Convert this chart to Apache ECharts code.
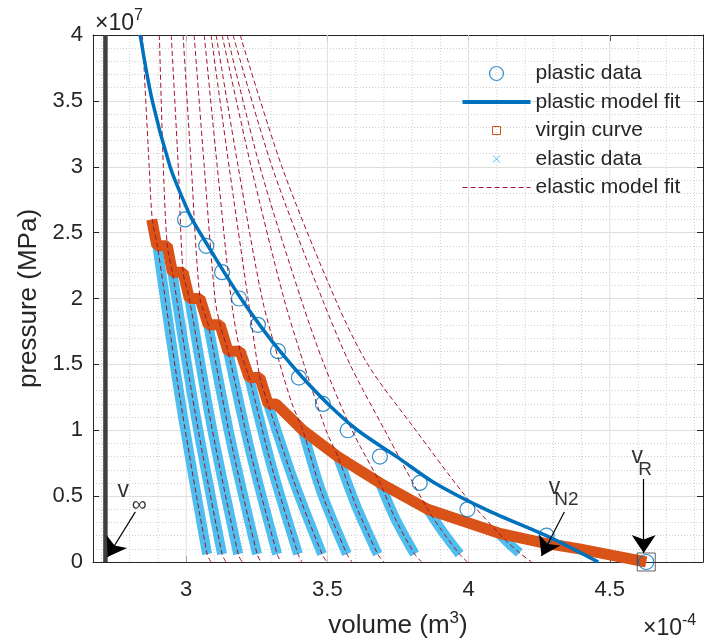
<!DOCTYPE html>
<html>
<head>
<meta charset="utf-8">
<script src="https://cdn.jsdelivr.net/npm/echarts@6/dist/echarts.min.js"></script>
<style>
  html, body { margin: 0; padding: 0; background: #fff; }
  #chart { width: 715px; height: 643px; }
</style>
</head>
<body>
<div id="chart"></div>
<script>
// units: volume in 1e-4 m^3, pressure in 1e7 Pa (the axis multipliers)
const xMin = 2.67, xMax = 4.83;
const yMin = 0, yMax = 4;
const xTicks = [3, 3.5, 4, 4.5];
const xMinor = [2.7, 2.8, 2.9, 3.1, 3.2, 3.3, 3.4, 3.6, 3.7, 3.8, 3.9, 4.1, 4.2, 4.3, 4.4, 4.6, 4.7, 4.8];

const vInf = 2.714;
const vR = 4.629;

// plastic data (circles)
const plasticV = [2.996, 3.071, 3.127, 3.187, 3.254, 3.325, 3.399, 3.484, 3.572, 3.686, 3.827, 3.996, 4.276, 4.629];
const plasticP = [2.6, 2.4, 2.2, 2.0, 1.8, 1.6, 1.4, 1.2, 1.0, 0.8, 0.6, 0.4, 0.2, 0.0];

// plastic model fit
const fitV = [2.837, 2.880, 2.943, 2.989, 3.021, 3.077, 3.134, 3.194, 3.260, 3.332, 3.412, 3.502, 3.607, 3.745, 3.880, 4.060, 4.275, 4.370, 4.459];
const fitP = [4.0, 3.5, 3.0, 2.75, 2.6, 2.4, 2.2, 2.0, 1.8, 1.6, 1.4, 1.2, 1.0, 0.8, 0.6, 0.4, 0.2, 0.1, 0.0];

// virgin curve
const virginV = [2.878, 2.896, 2.933, 2.951, 2.989, 3.011, 3.049, 3.078, 3.120, 3.148, 3.191, 3.223, 3.261, 3.290, 3.318, 3.413, 3.537, 3.686, 3.855, 4.106, 4.276, 4.392, 4.509, 4.629];
const virginP = [2.6, 2.4, 2.4, 2.2, 2.2, 2.0, 2.0, 1.8, 1.8, 1.6, 1.6, 1.4, 1.4, 1.2, 1.2, 1.0, 0.8, 0.6, 0.4, 0.22, 0.14, 0.10, 0.05, 0.0];

// elastic data, one branch per unloading
const elasticV = [
  [2.898, 2.979, 3.074], [2.951, 3.032, 3.127], [3.011, 3.090, 3.184], [3.078, 3.157, 3.251],
  [3.148, 3.228, 3.322], [3.223, 3.302, 3.396], [3.290, 3.378, 3.481], [3.413, 3.479, 3.569],
  [3.537, 3.601, 3.678], [3.686, 3.740, 3.809], [3.855, 3.908, 3.968], [4.106, 4.143, 4.180]
];
const elasticP = [
  [2.4, 1.23, 0.06], [2.2, 1.13, 0.06], [2.0, 1.03, 0.06], [1.8, 0.93, 0.06],
  [1.6, 0.83, 0.06], [1.4, 0.73, 0.06], [1.2, 0.63, 0.06], [1.0, 0.53, 0.06],
  [0.8, 0.43, 0.06], [0.6, 0.33, 0.06], [0.4, 0.23, 0.06], [0.22, 0.14, 0.07]
];

// elastic model fits
const efitV = [
  [2.845, 2.869, 2.880, 2.898, 2.979, 3.074, 3.088],
  [2.905, 2.919, 2.933, 2.951, 3.032, 3.127, 3.141],
  [2.947, 2.972, 2.989, 3.011, 3.090, 3.184, 3.198],
  [2.989, 3.018, 3.049, 3.078, 3.157, 3.251, 3.265],
  [3.028, 3.064, 3.102, 3.120, 3.148, 3.228, 3.322, 3.336],
  [3.064, 3.110, 3.159, 3.191, 3.223, 3.302, 3.396, 3.410],
  [3.088, 3.152, 3.219, 3.261, 3.290, 3.378, 3.481, 3.498],
  [3.106, 3.184, 3.269, 3.332, 3.375, 3.413, 3.479, 3.569, 3.587],
  [3.127, 3.230, 3.346, 3.417, 3.495, 3.537, 3.601, 3.678, 3.700],
  [3.145, 3.261, 3.406, 3.488, 3.587, 3.686, 3.740, 3.809, 3.834],
  [3.166, 3.304, 3.481, 3.580, 3.703, 3.855, 3.908, 3.968, 3.996],
  [3.191, 3.339, 3.527, 3.643, 3.813, 3.989, 4.106, 4.143, 4.180, 4.223]
];
const efitP = [
  [4, 3, 2.6, 2.4, 1.23, 0.06, 0],
  [4, 3, 2.4, 2.2, 1.13, 0.06, 0],
  [4, 3, 2.2, 2.0, 1.03, 0.06, 0],
  [4, 3, 2.0, 1.8, 0.93, 0.06, 0],
  [4, 3, 2.0, 1.8, 1.6, 0.83, 0.06, 0],
  [4, 3, 2.0, 1.6, 1.4, 0.73, 0.06, 0],
  [4, 3, 2.0, 1.4, 1.2, 0.63, 0.06, 0],
  [4, 3, 2.0, 1.5, 1.2, 1.0, 0.53, 0.06, 0],
  [4, 3, 2.0, 1.5, 1.0, 0.8, 0.43, 0.06, 0],
  [4, 3, 2.0, 1.5, 1.0, 0.6, 0.33, 0.06, 0],
  [4, 3, 2.0, 1.5, 1.0, 0.4, 0.23, 0.06, 0],
  [4, 3, 2.0, 1.5, 1.0, 0.5, 0.22, 0.14, 0.07, 0]
];

// annotations
const arrowFromV = [2.820, 4.339, 4.620];
const arrowFromP = [0.38, 0.38, 0.63];
const arrowToV = [2.721, 4.258, 4.620];
const arrowToP = [0.038, 0.046, 0.068];
const noteText = ['v', '\u221e', 'v', 'N2', 'v', 'R'];
const noteV = [2.777, 2.834, 4.304, 4.346, 4.597, 4.625];
const noteP = [0.54, 0.433, 0.562, 0.47, 0.797, 0.698];
const noteSize = [23, 21, 23, 19, 23, 19];

const FONT = '"Liberation Sans", Arial, Helvetica, sans-serif';
const TXT = '#262626';
const BLUE = '#0072BD', ORANGE = '#D95319', LIGHT = '#4DBEEE', RED = '#A2142F';

const ICON_CIRCLE = 'path://M0,0M68,14M41,7A7,7,0,1,1,27,7A7,7,0,1,1,41,7Z';
const ICON_LINE = 'path://M0,0M68,14M0,7L68,7';
const ICON_SQUARE = 'path://M0,0M68,14M30,3L38,3L38,11L30,11Z';
const ICON_CROSS = 'path://M0,0M68,14M30.5,3.5L37.5,10.5M37.5,3.5L30.5,10.5';

function pairs(vs, ps) {
  return vs.map((v, i) => [v, ps[i]]);
}
function vLines(xs) {
  const out = [];
  xs.forEach(x => { out.push([x, yMin], [x, yMax], [x, '-']); });
  return out;
}

const chart = echarts.init(document.getElementById('chart'), null, { renderer: 'canvas' });

const series = [];
series.push({
  name: 'gridMajor', type: 'line', data: vLines(xTicks), symbol: 'none', silent: true, z: 0,
  lineStyle: { color: '#dedede', width: 1 }, connectNulls: false
});
series.push({
  name: 'gridMinor', type: 'line', data: vLines(xMinor), symbol: 'none', silent: true, z: 0,
  lineStyle: { color: '#cfcfcf', width: 1, type: [1, 2] }, connectNulls: false
});
series.push({
  name: 'vinf', type: 'line', data: [[vInf, yMin], [vInf, yMax]], symbol: 'none', z: 3,
  lineStyle: { color: '#3f3f3f', width: 4.5 }
});
elasticV.forEach((vs, k) => {
  series.push({
    name: 'elastic data', type: 'line', data: pairs(vs, elasticP[k]), symbol: 'none', smooth: 0.3, z: 3,
    lineStyle: { color: LIGHT, width: 10, cap: 'butt' }, itemStyle: { color: LIGHT }
  });
});
series.push({
  name: 'virgin curve', type: 'line', data: pairs(virginV, virginP), symbol: 'none', z: 4,
  lineStyle: { color: ORANGE, width: 11, cap: 'butt', join: 'bevel' }, itemStyle: { color: ORANGE }
});
efitV.forEach((vs, k) => {
  series.push({
    name: 'elastic model fit', type: 'line', data: pairs(vs, efitP[k]), symbol: 'none', smooth: 0.3, z: 5,
    lineStyle: { color: RED, width: 1, type: [5, 3] }, itemStyle: { color: RED }
  });
});
series.push({
  name: 'plastic model fit', type: 'line', data: pairs(fitV, fitP), symbol: 'none', smooth: 0.3, z: 6,
  lineStyle: { color: BLUE, width: 3.5 }, itemStyle: { color: BLUE }
});
series.push({
  name: 'plastic data', type: 'scatter', data: pairs(plasticV, plasticP), symbol: 'circle', symbolSize: 15, z: 7,
  itemStyle: { color: 'transparent', borderColor: BLUE, borderWidth: 1.2 }
});
series.push({
  name: 'vRbox', type: 'scatter', data: [[vR, 0]], symbol: 'rect', symbolSize: 18, z: 8,
  itemStyle: { color: 'transparent', borderColor: '#3a3a3a', borderWidth: 1 }
});
series.push({
  name: 'arrows', type: 'scatter', data: pairs(arrowFromV, arrowFromP), symbolSize: 0, z: 9, silent: true,
  markLine: {
    silent: true, animation: false, symbol: ['none', 'arrow'], symbolSize: 18, z: 9,
    label: { show: false },
    lineStyle: { color: '#000', width: 1.2, type: 'solid' },
    data: arrowFromV.map((v, i) => [{ coord: [v, arrowFromP[i]] }, { coord: [arrowToV[i], arrowToP[i]] }])
  }
});
series.push({
  name: 'notes', type: 'scatter', symbolSize: 0, z: 10, silent: true,
  data: noteText.map((t, i) => ({ value: [noteV[i], noteP[i]], label: { formatter: t, fontSize: noteSize[i] } })),
  label: { show: true, position: 'inside', color: '#000', fontFamily: FONT }
});

const axisLine = { show: true, onZero: false, lineStyle: { color: TXT, width: 1 } };
const tickStyle = { color: TXT, width: 1 };
const supRich = { s: { fontSize: 16, lineHeight: 14, verticalAlign: 'top', fill: TXT, fontFamily: FONT } };

chart.setOption({
  animation: false,
  backgroundColor: '#fff',
  grid: { left: 93, right: 12, top: 35, bottom: 81, containLabel: false, outerBoundsMode: 'none' },
  xAxis: [
    {
      type: 'value', min: xMin, max: xMax, position: 'bottom',
      axisLine: axisLine,
      axisTick: { show: true, inside: true, length: 6, customValues: xTicks, lineStyle: tickStyle },
      axisLabel: { show: true, customValues: xTicks, margin: 17, fontSize: 22, color: TXT, fontFamily: FONT,
        formatter: v => String(v) },
      splitLine: { show: false },
      name: 'volume (m{s|3})', nameLocation: 'middle', nameGap: 48,
      nameTextStyle: { fontSize: 26, color: TXT, fontFamily: FONT, lineHeight: 32,
        rich: { s: { fontSize: 17, lineHeight: 14, verticalAlign: 'top', color: TXT, fontFamily: FONT } } }
    },
    {
      type: 'value', min: xMin, max: xMax, position: 'top',
      axisLine: axisLine,
      axisTick: { show: true, inside: true, length: 6, customValues: xTicks, lineStyle: tickStyle },
      axisLabel: { show: false }, splitLine: { show: false }
    }
  ],
  yAxis: [
    {
      type: 'value', min: yMin, max: yMax, interval: 0.5, position: 'left',
      axisLine: axisLine,
      axisTick: { show: true, inside: true, length: 6, lineStyle: tickStyle },
      axisLabel: { margin: 10, fontSize: 22, color: TXT, fontFamily: FONT },
      splitLine: { show: true, lineStyle: { color: '#dedede', width: 1 } },
      minorTick: { show: false, splitNumber: 5 },
      minorSplitLine: { show: true, lineStyle: { color: '#cfcfcf', width: 1, type: [1, 2] } },
      name: 'pressure (MPa)', nameLocation: 'middle', nameRotate: 90, nameGap: 43,
      nameTextStyle: { fontSize: 26, color: TXT, fontFamily: FONT }
    },
    {
      type: 'value', min: yMin, max: yMax, interval: 0.5, position: 'right',
      axisLine: axisLine,
      axisTick: { show: true, inside: true, length: 6, lineStyle: tickStyle },
      axisLabel: { show: false }, splitLine: { show: false }
    }
  ],
  legend: {
    orient: 'vertical', left: 460, top: 63, padding: 0, itemGap: 7.5, itemWidth: 68, itemHeight: 14,
    selectedMode: false,
    textStyle: { fontSize: 21, color: TXT, fontFamily: FONT, lineHeight: 21 },
    data: [
      { name: 'plastic data', icon: ICON_CIRCLE, itemStyle: { color: 'none', borderColor: BLUE, borderWidth: 1.2 } },
      { name: 'plastic model fit', icon: ICON_LINE, itemStyle: { color: 'none', borderColor: BLUE, borderWidth: 4 } },
      { name: 'virgin curve', icon: ICON_SQUARE, itemStyle: { color: 'none', borderColor: ORANGE, borderWidth: 1 } },
      { name: 'elastic data', icon: ICON_CROSS, itemStyle: { color: 'none', borderColor: LIGHT, borderWidth: 1 } },
      { name: 'elastic model fit', icon: ICON_LINE,
        itemStyle: { color: 'none', borderColor: RED, borderWidth: 1, borderType: [5, 3] } }
    ]
  },
  graphic: [
    {
      type: 'text', left: 95, top: 8, silent: true,
      style: { text: '\u00d710{s|7}', fill: TXT, font: '23px ' + FONT, lineHeight: 32, rich: supRich }
    },
    {
      type: 'text', left: 643, top: 613, silent: true,
      style: { text: '\u00d710{s|-4}', fill: TXT, font: '23px ' + FONT, lineHeight: 32, rich: supRich }
    }
  ],
  series: series
});
</script>
</body>
</html>
